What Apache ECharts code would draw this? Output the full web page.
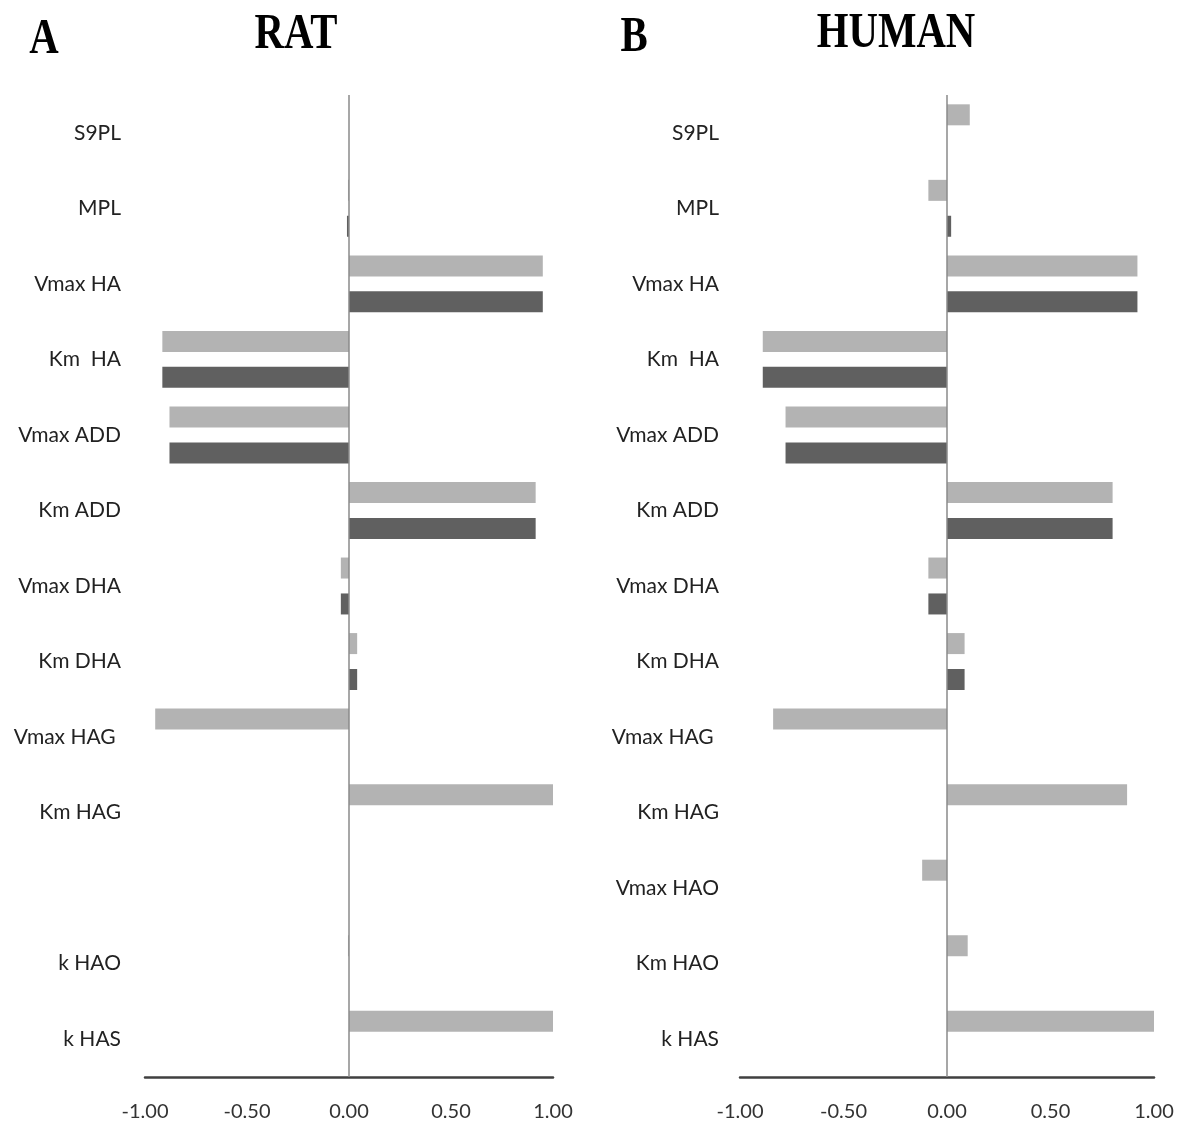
<!DOCTYPE html>
<html>
<head>
<meta charset="utf-8">
<script src="https://cdn.jsdelivr.net/npm/echarts@6/dist/echarts.min.js"></script>
<style>
  html, body { margin: 0; padding: 0; background: #fff; }
  #chart { width: 1180px; height: 1124px; }
</style>
</head>
<body>
<div id="chart"></div>
<script>
// Parameter names, top to bottom
const ratLabels = ['S9PL', 'MPL', 'Vmax HA', 'Km  HA', 'Vmax ADD', 'Km ADD', 'Vmax DHA', 'Km DHA', 'Vmax HAG ', 'Km HAG', '', 'k HAO', 'k HAS'];
const humanLabels = ['S9PL', 'MPL', 'Vmax HA', 'Km  HA', 'Vmax ADD', 'Km ADD', 'Vmax DHA', 'Km DHA', 'Vmax HAG ', 'Km HAG', 'Vmax HAO', 'Km HAO', 'k HAS'];

// Sensitivity values (light = first set, dark = second set)
const ratLight = [0, -0.005, 0.95, -0.915, -0.88, 0.915, -0.04, 0.04, -0.95, 1.00, null, -0.005, 1.00];
const ratDark = [0, -0.01, 0.95, -0.915, -0.88, 0.915, -0.04, 0.04, null, null, null, null, null];
const humanLight = [0.11, -0.09, 0.92, -0.89, -0.78, 0.80, -0.09, 0.085, -0.84, 0.87, -0.12, 0.10, 1.00];
const humanDark = [null, 0.02, 0.92, -0.89, -0.78, 0.80, -0.09, 0.085, null, null, null, null, null];

const xTicks = { min: -1, max: 1, interval: 0.5 };

const LIGHT = '#b3b3b3';
const DARK = '#606060';
const labelFont = 'Lato';

const chart = echarts.init(document.getElementById('chart'), null, { renderer: 'canvas' });

function xAxisFor(gridIndex) {
  return {
    type: 'value', gridIndex,
    min: xTicks.min, max: xTicks.max, interval: xTicks.interval,
    axisLine: { show: true, lineStyle: { color: '#404040', width: 2.5 } },
    axisTick: { show: false },
    splitLine: { show: false },
    axisLabel: {
      margin: 25, fontSize: 20, color: '#333', fontFamily: labelFont,
      formatter: v => v.toFixed(2)
    }
  };
}

function yAxisFor(gridIndex, labels, margin) {
  return {
    type: 'category', gridIndex, data: labels, inverse: true,
    axisLine: { show: false }, axisTick: { show: false }, splitLine: { show: false },
    axisLabel: { margin, fontSize: 21, color: '#222', fontFamily: labelFont, interval: 0 }
  };
}

function barSeries(axisIndex, data, color, withZeroLine) {
  const s = {
    type: 'bar', xAxisIndex: axisIndex, yAxisIndex: axisIndex, data,
    barWidth: 21, barGap: '71%',
    itemStyle: { color },
    silent: true
  };
  if (withZeroLine) {
    s.markLine = {
      silent: true, symbol: 'none', animation: false,
      label: { show: false },
      lineStyle: { color: '#8a8a8a', width: 1.5, type: 'solid' },
      data: [{ xAxis: 0 }]
    };
  }
  return s;
}

function titleText(x, y, text) {
  return {
    type: 'text', x, y, scaleX: 0.8,
    style: {
      text, fill: '#000', font: 'bold 51px "Liberation Serif", "DejaVu Serif", serif',
      textAlign: 'center', textVerticalAlign: 'middle'
    }
  };
}

chart.setOption({
  backgroundColor: '#fff',
  animation: false,
  grid: [
    { left: 145, top: 95, width: 408, height: 982 },
    { left: 740, top: 95, width: 414, height: 982 }
  ],
  xAxis: [xAxisFor(0), xAxisFor(1)],
  yAxis: [yAxisFor(0, ratLabels, 24), yAxisFor(1, humanLabels, 21)],
  series: [
    barSeries(0, ratLight, LIGHT, true),
    barSeries(0, ratDark, DARK, false),
    barSeries(1, humanLight, LIGHT, true),
    barSeries(1, humanDark, DARK, false)
  ],
  graphic: [
    titleText(44, 40, 'A'),
    titleText(296, 35, 'RAT'),
    titleText(634, 38, 'B'),
    titleText(896, 34, 'HUMAN')
  ]
});
</script>
</body>
</html>
